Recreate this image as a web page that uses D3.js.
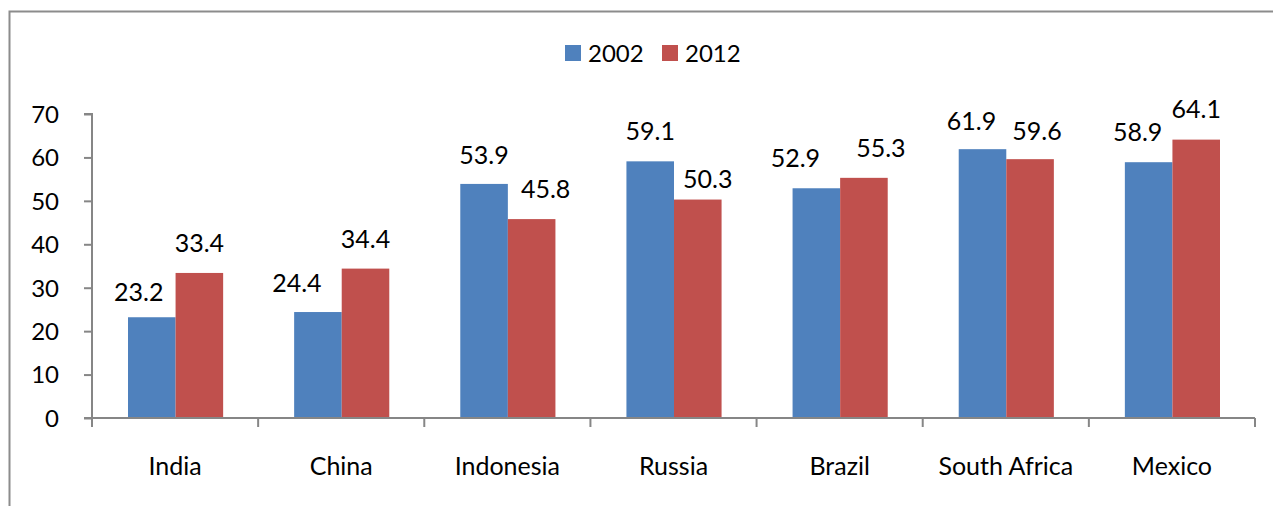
<!DOCTYPE html>
<html><head><meta charset="utf-8">
<script src="https://cdn.jsdelivr.net/npm/d3@7"></script>
<style>body{margin:0;background:#fff}svg{display:block}text{font-family:Lato,"Open Sans",sans-serif;fill:#000}</style>
</head><body><svg id="c" width="1273" height="506"></svg>
<script>
const categories = ["India","China","Indonesia","Russia","Brazil","South Africa","Mexico"];
const seriesNames = ["2002","2012"];
const values2002 = [23.2,24.4,53.9,59.1,52.9,61.9,58.9];
const values2012 = [33.4,34.4,45.8,50.3,55.3,59.6,64.1];
const yTicks = [0,10,20,30,40,50,60,70];
const colors = ["#4F81BD","#C0504D"];
// manual label nudges (layout only): [dx, gap above bar] per category, per series
const labelNudge2002 = [[-13,16],[-21,20],[0,20],[0,21],[-21,21],[-11,19],[-11,21]];
const labelNudge2012 = [[0,21],[0,21],[14,21],[10,12],[17,21],[7,19],[0,22]];

const svg = d3.select("#c");
const m = {l:92, r:1255, t:114, b:418};
// frame
svg.append("path").attr("d","M9.5,506 V11.5 H1273").attr("fill","none").attr("stroke","#8c8c8c").attr("stroke-width",2);

const x = d3.scaleBand().domain(categories).range([m.l,m.r]).paddingInner(0).paddingOuter(0);
const inner = d3.scaleBand().domain(seriesNames).range([36, x.bandwidth()-35]).padding(0);
const y = d3.scaleLinear().domain([0,70]).range([m.b,m.t]);

const nudges = [labelNudge2002, labelNudge2012];
const data = categories.map((c,i)=>({c, i, vals:[values2002[i], values2012[i]]}));
const g = svg.append("g");
data.forEach(d=>{
  d.vals.forEach((v,j)=>{
    const nd = nudges[j][d.i];
    g.append("rect").attr("x", x(d.c)+inner(seriesNames[j])).attr("y", y(v))
      .attr("width", inner.bandwidth()).attr("height", y(0)-y(v)).attr("fill", colors[j]);
    g.append("text").attr("x", x(d.c)+inner(seriesNames[j])+inner.bandwidth()/2 + nd[0]).attr("y", y(v)-nd[1])
      .attr("text-anchor","middle").attr("font-size",25).text(v.toFixed(1));
  });
});

// y axis
const ya = svg.append("g").attr("transform",`translate(${m.l},0)`)
  .call(d3.axisLeft(y).tickValues(yTicks).tickSize(8).tickPadding(25).tickFormat(d3.format("d")));
ya.select(".domain").attr("stroke","#868686").attr("stroke-width",2).attr("d",`M-8,${m.t}H0V${m.b}`);
ya.selectAll(".tick line").attr("stroke","#868686").attr("stroke-width",2);
ya.selectAll(".tick text").attr("font-size",24).attr("font-family","Lato,sans-serif").attr("fill","#000").attr("dy","0.35em");

// x axis
const xa = svg.append("g").attr("transform",`translate(0,${m.b})`);
xa.append("line").attr("x1",m.l-8).attr("x2",m.r).attr("y1",0).attr("y2",0).attr("stroke","#868686").attr("stroke-width",2);
categories.concat([null]).forEach((c,i)=>{
  const xx = c===null ? m.r : x(c);
  xa.append("line").attr("x1",xx).attr("x2",xx).attr("y1",0).attr("y2",9).attr("stroke","#868686").attr("stroke-width",2);
});
categories.forEach(c=>{
  xa.append("text").attr("x",x(c)+x.bandwidth()/2).attr("y",57).attr("text-anchor","middle").attr("font-size",25).text(c);
});

// legend
const leg = svg.append("g");
const legItems = [{n:"2002",x:565},{n:"2012",x:662}];
legItems.forEach((it,i)=>{
  leg.append("rect").attr("x",it.x).attr("y",45).attr("width",16).attr("height",16).attr("fill",colors[i]);
  leg.append("text").attr("x",it.x+23).attr("y",62).attr("font-size",24).text(it.n);
});
</script></body></html>
